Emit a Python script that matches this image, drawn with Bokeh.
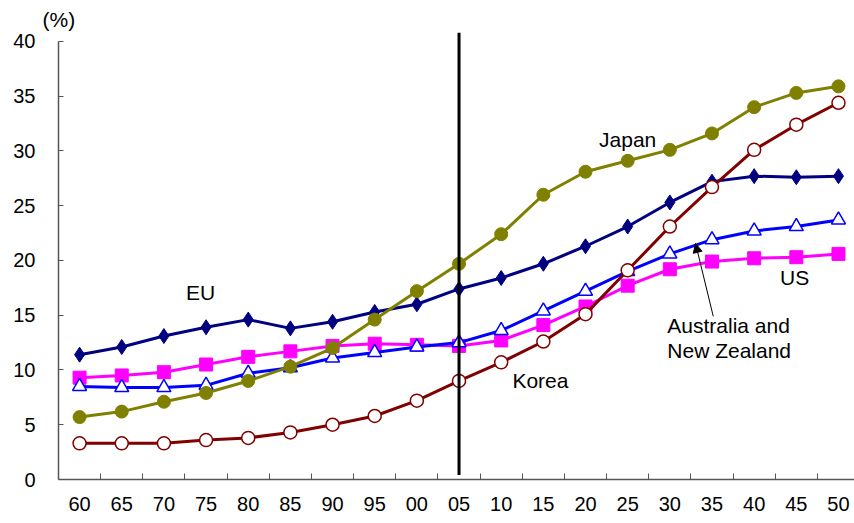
from bokeh.plotting import figure
from bokeh.models import Range1d, FixedTicker, Arrow, NormalHead, ColumnDataSource, Title
from bokeh.core.properties import value
from bokeh.embed import file_html
from bokeh.resources import INLINE

# Share of population aged 65 and over, by region (%)
years = ["60", "65", "70", "75", "80", "85", "90", "95", "00", "05",
         "10", "15", "20", "25", "30", "35", "40", "45", "50"]
eu = [11.4, 12.1, 13.1, 13.9, 14.6, 13.8, 14.4, 15.3, 16.0, 17.4,
      18.4, 19.7, 21.3, 23.1, 25.3, 27.2, 27.7, 27.6, 27.7]
japan = [5.7, 6.2, 7.1, 7.9, 9.0, 10.3, 12.0, 14.6, 17.2, 19.7,
         22.4, 26.0, 28.1, 29.1, 30.1, 31.6, 34.0, 35.3, 35.9]
us = [9.3, 9.5, 9.8, 10.5, 11.2, 11.7, 12.2, 12.4, 12.3, 12.2,
      12.7, 14.1, 15.8, 17.7, 19.2, 19.9, 20.2, 20.3, 20.6]
aus_nz = [8.5, 8.4, 8.4, 8.6, 9.7, 10.2, 11.1, 11.6, 12.1, 12.5,
          13.6, 15.4, 17.2, 19.0, 20.6, 21.9, 22.7, 23.1, 23.7]
korea = [3.3, 3.3, 3.3, 3.6, 3.8, 4.3, 5.0, 5.8, 7.2, 9.0,
         10.7, 12.6, 15.1, 19.1, 23.1, 26.7, 30.1, 32.4, 34.4]
y_ticks = [0, 5, 10, 15, 20, 25, 30, 35, 40]
marker_year = "05"

xs = list(range(len(years)))
FONT = "Liberation Sans"
TICK_FS = "20px"
TEXT_FS = "21px"

p = figure(frame_width=796, frame_height=449, output_backend="svg",
           toolbar_location=None, x_range=Range1d(-0.5, 18.38),
           y_range=Range1d(0, 41.0), min_border_left=58, min_border_right=0,
           min_border_top=30, min_border_bottom=44)
p.outline_line_color = None
p.xgrid.grid_line_color = None
p.ygrid.grid_line_color = None
p.background_fill_color = "white"

# unit label above the y axis
p.add_layout(Title(text="(%)", align="left", offset=-16, text_font=FONT,
                   text_font_size=TEXT_FS, text_font_style="normal",
                   text_color="black", standoff=0), "above")

# x axis: labels at category centres, tick marks on the boundaries
xa = p.xaxis[0]
xa.ticker = FixedTicker(ticks=xs, minor_ticks=[i + 0.5 for i in xs[:-1]])
xa.major_label_overrides = {i: y for i, y in enumerate(years)}
xa.major_tick_in = 0
xa.major_tick_out = 0
xa.minor_tick_in = 6
xa.minor_tick_out = 0
xa.minor_tick_line_color = "#555555"
xa.axis_line_color = "#555555"
xa.axis_line_width = 1.5
xa.major_label_standoff = 17
xa.major_label_text_font = FONT
xa.major_label_text_font_size = TICK_FS
xa.major_label_text_color = "black"

ya = p.yaxis[0]
ya.ticker = FixedTicker(ticks=y_ticks)
ya.bounds = (0, 40)
ya.major_tick_in = 5
ya.major_tick_out = 0
ya.minor_tick_line_color = None
ya.major_tick_line_color = "#555555"
ya.axis_line_color = "#555555"
ya.axis_line_width = 1.5
ya.major_label_standoff = 23
ya.major_label_text_font = FONT
ya.major_label_text_font_size = TICK_FS
ya.major_label_text_color = "black"

# series, drawn bottom to top
p.line(xs, eu, line_color="#000080", line_width=3)
p.scatter(xs, eu, marker="diamond", size=15, fill_color="#000080", line_color="#000080")

p.line(xs, us, line_color="#FF00FF", line_width=3)
p.scatter(xs, us, marker="square", size=13, fill_color="#FF00FF", line_color="#FF00FF")

p.line(xs, aus_nz, line_color="#0000FF", line_width=3)
p.scatter(xs, aus_nz, marker="triangle", size=14, fill_color="white", line_color="#0000FF", line_width=1.5)

p.line(xs, japan, line_color="#808000", line_width=3)
p.scatter(xs, japan, marker="circle", size=13, fill_color="#808000", line_color="#808000")

p.line(xs, korea, line_color="#800000", line_width=3)
p.scatter(xs, korea, marker="circle", size=13, fill_color="white", line_color="#800000", line_width=1.5)

# vertical marker at the current year
mx = years.index(marker_year)
p.segment(x0=[mx], y0=[0.4], x1=[mx], y1=[40.8], line_color="black", line_width=3)

# series names
labels = ColumnDataSource(dict(
    x=[2.87, 13.0, 10.93, 16.96, 13.94, 13.94],
    y=[17.1, 31.05, 9.04, 18.4, 14.06, 11.78],
    t=["EU", "Japan", "Korea", "US", "Australia and", "New Zealand"],
    a=["center", "center", "center", "center", "left", "left"],
))
p.text(x="x", y="y", text="t", text_align="a", text_baseline="middle",
       source=labels, text_font=value(FONT), text_font_size=TEXT_FS, text_color="black")

p.add_layout(Arrow(end=NormalHead(size=9, fill_color="black", line_color="black"),
                   x_start=15.03, y_start=14.9, x_end=14.61, y_end=21.55,
                   line_color="black", line_width=1))

open("out.html", "w").write(file_html(p, INLINE))
